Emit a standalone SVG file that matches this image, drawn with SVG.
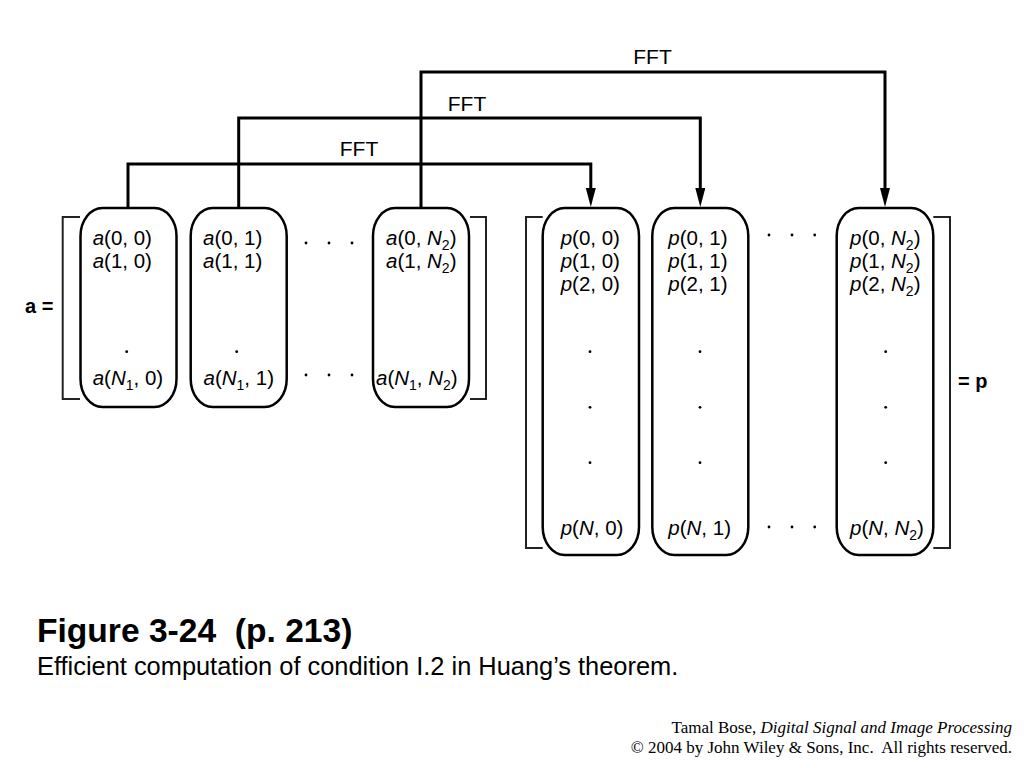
<svg xmlns="http://www.w3.org/2000/svg" width="1024" height="768" viewBox="0 0 1024 768">
<defs>
<style>
.box{fill:none;stroke:#000;stroke-width:2.5}
.br{fill:none;stroke:#222;stroke-width:2}
.conn{fill:none;stroke:#000;stroke-width:3}
.t{font-family:"Liberation Sans",Arial,sans-serif;font-size:20.5px;fill:#000}
.i{font-style:italic}
.sub{font-size:14px}
.lbl{font-family:"Liberation Sans",Arial,sans-serif;font-size:21px;fill:#000}
.bold{font-family:"Liberation Sans",Arial,sans-serif;font-size:20px;font-weight:bold;fill:#000}
.dot{fill:#000}
</style>
<marker id="ah" markerUnits="userSpaceOnUse" markerWidth="20" markerHeight="11" refX="0" refY="5" orient="auto">
<path d="M0,0 L19,5 L0,10 z" fill="#000"/>
</marker>
</defs>
<rect width="1024" height="768" fill="#fff"/>

<g id="connectors">
<path class="conn" d="M128 208 V164 H590.8 V188" marker-end="url(#ah)"/>
<path class="conn" d="M238.7 208 V118 H700.3 V188" marker-end="url(#ah)"/>
<path class="conn" d="M421 208 V72 H885 V188" marker-end="url(#ah)"/>
<text class="lbl" x="359" y="156" text-anchor="middle">FFT</text>
<text class="lbl" x="467" y="110.5" text-anchor="middle">FFT</text>
<text class="lbl" x="652.5" y="64" text-anchor="middle">FFT</text>
</g>

<g id="matrix-a">
<path class="br" d="M80 217 H62.7 V399 H80"/>
<path class="br" d="M470 217 H486 V399 H470"/>
<text class="bold" x="25" y="313">a =</text>
<circle class="dot" cx="306" cy="243" r="1.4"/>
<circle class="dot" cx="329" cy="243" r="1.4"/>
<circle class="dot" cx="352" cy="243" r="1.4"/>
<circle class="dot" cx="306" cy="375" r="1.4"/>
<circle class="dot" cx="329" cy="375" r="1.4"/>
<circle class="dot" cx="352" cy="375" r="1.4"/>
</g>

<g id="a-col0">
<rect class="box" x="80.5" y="208" width="96" height="199" rx="22" ry="28"/>
<text class="t" x="92.7" y="245"><tspan class="i">a</tspan>(0, 0)</text>
<text class="t" x="92.7" y="268"><tspan class="i">a</tspan>(1, 0)</text>
<circle class="dot" cx="126.7" cy="351.7" r="1.4"/>
<text class="t" x="92.7" y="385"><tspan class="i">a</tspan>(<tspan class="i">N</tspan><tspan class="sub" dy="5">1</tspan><tspan dy="-5">, 0)</tspan></text>
</g>

<g id="a-col1">
<rect class="box" x="190.7" y="208" width="96" height="199" rx="22" ry="28"/>
<text class="t" x="203" y="245"><tspan class="i">a</tspan>(0, 1)</text>
<text class="t" x="203" y="268"><tspan class="i">a</tspan>(1, 1)</text>
<circle class="dot" cx="236.7" cy="351.7" r="1.4"/>
<text class="t" x="203.5" y="385"><tspan class="i">a</tspan>(<tspan class="i">N</tspan><tspan class="sub" dy="5">1</tspan><tspan dy="-5">, 1)</tspan></text>
</g>

<g id="a-colN2">
<rect class="box" x="373" y="208" width="96" height="199" rx="22" ry="28"/>
<text class="t" x="386" y="245"><tspan class="i">a</tspan>(0, <tspan class="i">N</tspan><tspan class="sub" dy="5">2</tspan><tspan dy="-5">)</tspan></text>
<text class="t" x="386" y="268"><tspan class="i">a</tspan>(1, <tspan class="i">N</tspan><tspan class="sub" dy="5">2</tspan><tspan dy="-5">)</tspan></text>
<text class="t" x="376" y="385"><tspan class="i">a</tspan>(<tspan class="i">N</tspan><tspan class="sub" dy="5">1</tspan><tspan dy="-5">, </tspan><tspan class="i">N</tspan><tspan class="sub" dy="5">2</tspan><tspan dy="-5">)</tspan></text>
</g>

<g id="matrix-p">
<path class="br" d="M542.7 217 H526 V548 H542.7"/>
<path class="br" d="M933.3 217 H950 V548 H933.3"/>
<text class="bold" x="958" y="388">= p</text>
<circle class="dot" cx="769" cy="235" r="1.4"/>
<circle class="dot" cx="792" cy="235" r="1.4"/>
<circle class="dot" cx="814.7" cy="235" r="1.4"/>
<circle class="dot" cx="769" cy="527" r="1.4"/>
<circle class="dot" cx="792" cy="527" r="1.4"/>
<circle class="dot" cx="814.7" cy="527" r="1.4"/>
</g>

<g id="p-col0">
<rect class="box" x="542.7" y="208" width="96.3" height="347" rx="22" ry="28"/>
<text class="t" x="560.7" y="245"><tspan class="i">p</tspan>(0, 0)</text>
<text class="t" x="560.7" y="268"><tspan class="i">p</tspan>(1, 0)</text>
<text class="t" x="560.7" y="291"><tspan class="i">p</tspan>(2, 0)</text>
<circle class="dot" cx="590" cy="351.7" r="1.4"/>
<circle class="dot" cx="590" cy="407.3" r="1.4"/>
<circle class="dot" cx="590" cy="462.7" r="1.4"/>
<text class="t" x="560.7" y="535"><tspan class="i">p</tspan>(<tspan class="i">N</tspan>, 0)</text>
</g>

<g id="p-col1">
<rect class="box" x="652.3" y="208" width="96" height="347" rx="22" ry="28"/>
<text class="t" x="668.3" y="245"><tspan class="i">p</tspan>(0, 1)</text>
<text class="t" x="668.3" y="268"><tspan class="i">p</tspan>(1, 1)</text>
<text class="t" x="668.3" y="291"><tspan class="i">p</tspan>(2, 1)</text>
<circle class="dot" cx="700" cy="351.7" r="1.4"/>
<circle class="dot" cx="700" cy="407.3" r="1.4"/>
<circle class="dot" cx="700" cy="462.7" r="1.4"/>
<text class="t" x="668.3" y="535"><tspan class="i">p</tspan>(<tspan class="i">N</tspan>, 1)</text>
</g>

<g id="p-colN2">
<rect class="box" x="836.7" y="208" width="96.6" height="347" rx="22" ry="28"/>
<text class="t" x="850" y="245"><tspan class="i">p</tspan>(0, <tspan class="i">N</tspan><tspan class="sub" dy="5">2</tspan><tspan dy="-5">)</tspan></text>
<text class="t" x="850" y="268"><tspan class="i">p</tspan>(1, <tspan class="i">N</tspan><tspan class="sub" dy="5">2</tspan><tspan dy="-5">)</tspan></text>
<text class="t" x="850" y="291"><tspan class="i">p</tspan>(2, <tspan class="i">N</tspan><tspan class="sub" dy="5">2</tspan><tspan dy="-5">)</tspan></text>
<circle class="dot" cx="885.7" cy="351.7" r="1.4"/>
<circle class="dot" cx="885.7" cy="407.3" r="1.4"/>
<circle class="dot" cx="885.7" cy="462.7" r="1.4"/>
<text class="t" x="850" y="535"><tspan class="i">p</tspan>(<tspan class="i">N</tspan>, <tspan class="i">N</tspan><tspan class="sub" dy="5">2</tspan><tspan dy="-5">)</tspan></text>
</g>

<g id="caption">
<text x="37" y="641.5" font-family="'Liberation Sans',Arial,sans-serif" font-size="33.6" font-weight="bold" fill="#000" xml:space="preserve">Figure 3-24  (p. 213)</text>
<text x="37" y="674.5" font-family="'Liberation Sans',Arial,sans-serif" font-size="25.4" fill="#000">Efficient computation of condition I.2 in Huang’s theorem.</text>
</g>

<g id="credit" font-family="'Liberation Serif','Times New Roman',serif" font-size="17" fill="#000" text-anchor="end">
<text x="1012" y="733">Tamal Bose, <tspan font-style="italic">Digital Signal and Image Processing</tspan></text>
<text x="1012" y="753" xml:space="preserve">© 2004 by John Wiley &amp; Sons, Inc.  All rights reserved.</text>
</g>
</svg>
